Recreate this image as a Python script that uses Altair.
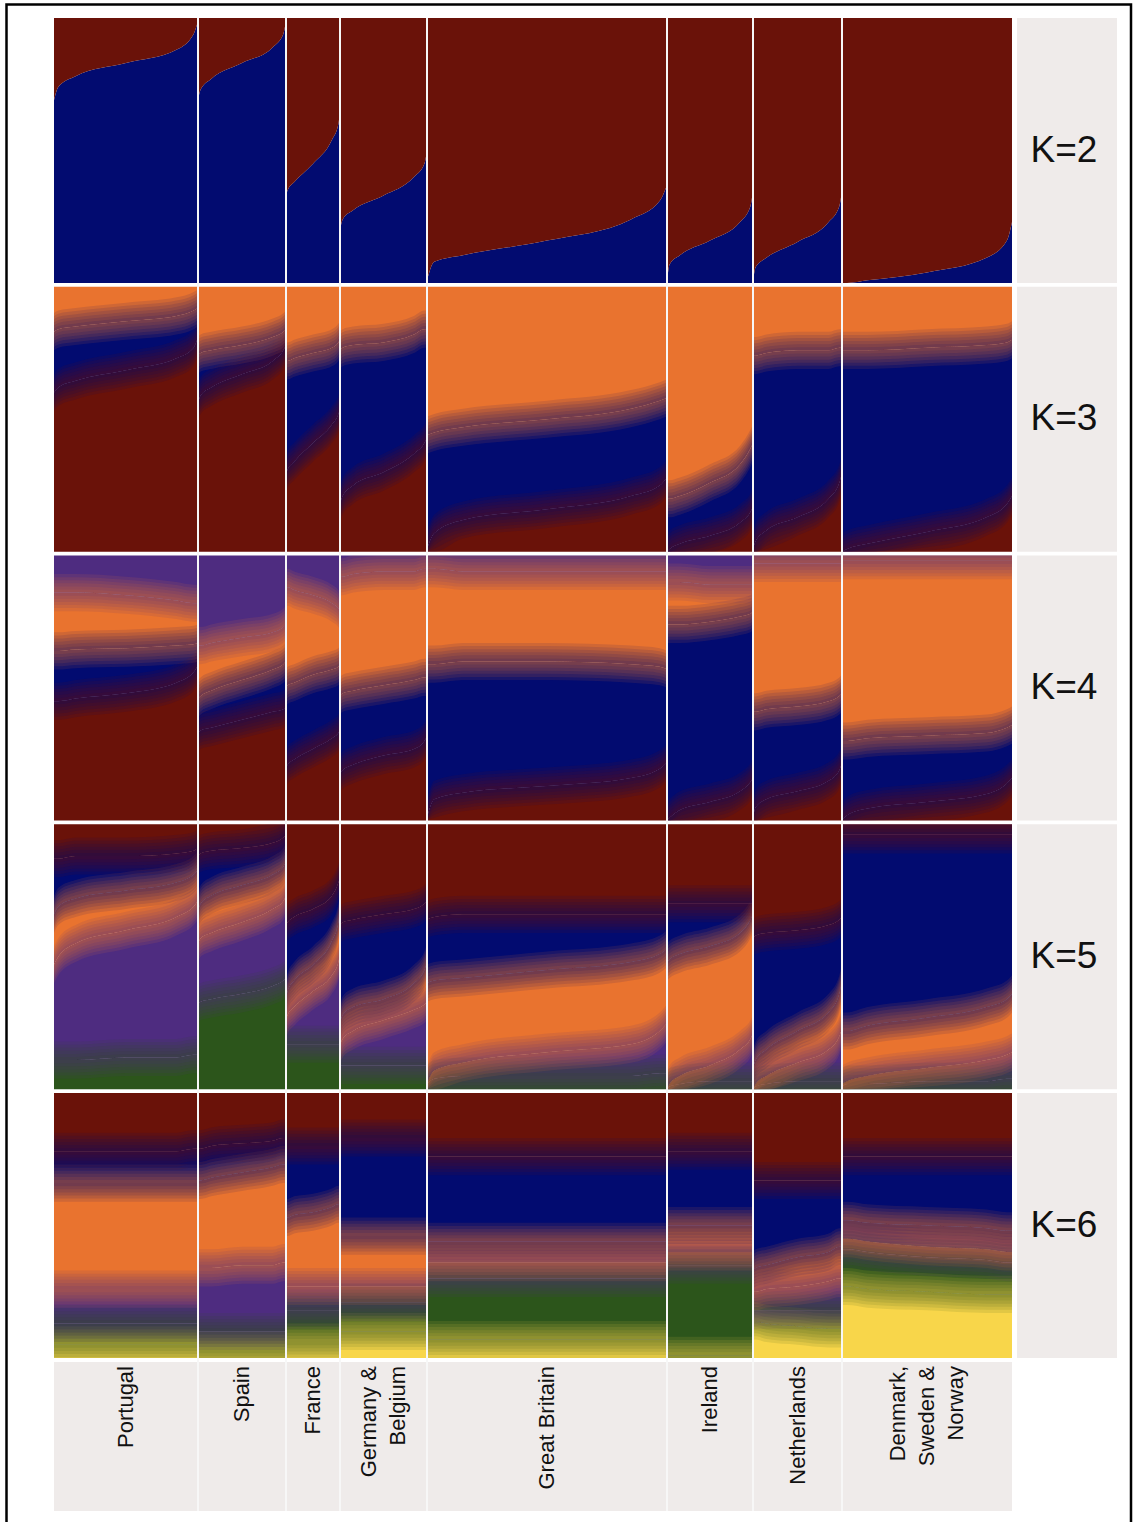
import altair as alt
import pandas as pd

# ---------------- data ----------------
POPS = ["Portugal", "Spain", "France", "Germany &\nBelgium", "Great Britain",
        "Ireland", "Netherlands", "Denmark,\nSweden &\nNorway"]
N_SAMPLES = [144, 88, 54, 87, 240, 86, 89, 170]
# relative positions (within each population, individuals sorted) where boundaries were read
POS = [0.0, 0.03, 0.15, 0.5, 0.85, 0.97, 1.0]
K_LABELS = ["K=2", "K=3", "K=4", "K=5", "K=6"]

# cumulative ancestry boundaries (fraction from bottom), one list per population
# K=2 : blue (bottom) | red
K2_BLUE_TOP = [
    [0.69, 0.74, 0.78, 0.83, 0.88, 0.94, 0.99],
    [0.69, 0.73, 0.77, 0.83, 0.89, 0.94, 0.99],
    [0.33, 0.35, 0.38, 0.45, 0.54, 0.60, 0.65],
    [0.20, 0.24, 0.275, 0.33, 0.40, 0.45, 0.50],
    [0.01, 0.08, 0.105, 0.16, 0.24, 0.31, 0.37],
    [0.005, 0.07, 0.105, 0.16, 0.23, 0.29, 0.35],
    [0.005, 0.06, 0.095, 0.155, 0.23, 0.29, 0.35],
    [0.0, 0.0, 0.01, 0.04, 0.095, 0.16, 0.23],
]
# K=3 : red | blue | orange
K3_RED_TOP = [
    [0.60, 0.62, 0.645, 0.685, 0.73, 0.77, 0.81],
    [0.56, 0.59, 0.62, 0.67, 0.72, 0.76, 0.78],
    [0.29, 0.31, 0.34, 0.41, 0.48, 0.52, 0.54],
    [0.18, 0.21, 0.25, 0.30, 0.37, 0.41, 0.43],
    [0.01, 0.07, 0.12, 0.16, 0.21, 0.25, 0.28],
    [0.0, 0.01, 0.03, 0.06, 0.11, 0.15, 0.17],
    [0.01, 0.04, 0.08, 0.13, 0.20, 0.26, 0.30],
    [0.0, 0.01, 0.03, 0.075, 0.13, 0.18, 0.21],
]
K3_BLUE_TOP = [
    [0.83, 0.84, 0.85, 0.87, 0.89, 0.91, 0.92],
    [0.74, 0.75, 0.76, 0.78, 0.81, 0.83, 0.84],
    [0.72, 0.72, 0.73, 0.75, 0.77, 0.79, 0.80],
    [0.76, 0.77, 0.78, 0.79, 0.82, 0.84, 0.84],
    [0.44, 0.45, 0.47, 0.50, 0.54, 0.57, 0.58],
    [0.20, 0.20, 0.21, 0.26, 0.33, 0.39, 0.41],
    [0.74, 0.74, 0.75, 0.76, 0.76, 0.77, 0.77],
    [0.76, 0.76, 0.76, 0.77, 0.78, 0.79, 0.80],
]
# K=4 : red | blue | orange | purple
K4_RED_TOP = [
    [0.45, 0.45, 0.46, 0.48, 0.52, 0.56, 0.585],
    [0.33, 0.34, 0.35, 0.38, 0.41, 0.42, 0.43],
    [0.20, 0.21, 0.23, 0.27, 0.31, 0.33, 0.34],
    [0.18, 0.19, 0.21, 0.245, 0.27, 0.30, 0.32],
    [0.01, 0.08, 0.105, 0.13, 0.16, 0.195, 0.22],
    [0.0, 0.01, 0.04, 0.07, 0.11, 0.145, 0.16],
    [0.01, 0.05, 0.08, 0.11, 0.15, 0.19, 0.22],
    [0.0, 0.02, 0.045, 0.07, 0.10, 0.14, 0.16],
]
K4_BLUE_TOP = [
    [0.64, 0.64, 0.645, 0.65, 0.66, 0.665, 0.67],
    [0.46, 0.47, 0.49, 0.53, 0.57, 0.59, 0.60],
    [0.50, 0.51, 0.52, 0.55, 0.57, 0.58, 0.59],
    [0.47, 0.48, 0.49, 0.51, 0.53, 0.54, 0.54],
    [0.59, 0.59, 0.60, 0.60, 0.59, 0.58, 0.57],
    [0.74, 0.74, 0.74, 0.75, 0.77, 0.78, 0.79],
    [0.41, 0.41, 0.42, 0.43, 0.45, 0.47, 0.48],
    [0.30, 0.30, 0.31, 0.32, 0.33, 0.35, 0.36],
]
K4_ORANGE_TOP = [
    [0.86, 0.86, 0.86, 0.85, 0.83, 0.82, 0.82],
    [0.66, 0.66, 0.67, 0.69, 0.71, 0.73, 0.74],
    [0.88, 0.88, 0.87, 0.85, 0.82, 0.80, 0.79],
    [0.92, 0.92, 0.93, 0.94, 0.94, 0.95, 0.95],
    [0.95, 0.95, 0.94, 0.94, 0.94, 0.94, 0.94],
    [0.90, 0.90, 0.90, 0.89, 0.89, 0.89, 0.89],
    [0.97, 0.97, 0.97, 0.97, 0.97, 0.97, 0.97],
    [0.98, 0.98, 0.98, 0.98, 0.98, 0.98, 0.98],
]
# K=5 : green | purple | orange | blue | red
K5_GREEN_TOP = [
    [0.11, 0.11, 0.11, 0.12, 0.12, 0.13, 0.13],
    [0.32, 0.33, 0.34, 0.36, 0.39, 0.41, 0.42],
    [0.17, 0.17, 0.17, 0.17, 0.17, 0.17, 0.17],
    [0.09, 0.09, 0.09, 0.09, 0.09, 0.09, 0.09],
    [0.02, 0.04, 0.05, 0.05, 0.05, 0.06, 0.06],
    [0.0, 0.01, 0.02, 0.03, 0.03, 0.03, 0.03],
    [0.0, 0.01, 0.02, 0.03, 0.03, 0.03, 0.03],
    [0.01, 0.02, 0.02, 0.03, 0.03, 0.04, 0.04],
]
K5_PURPLE_TOP = [
    [0.47, 0.50, 0.55, 0.60, 0.65, 0.69, 0.71],
    [0.55, 0.57, 0.59, 0.63, 0.68, 0.71, 0.73],
    [0.26, 0.28, 0.31, 0.37, 0.43, 0.48, 0.51],
    [0.17, 0.19, 0.22, 0.26, 0.30, 0.32, 0.33],
    [0.02, 0.07, 0.10, 0.14, 0.17, 0.22, 0.25],
    [0.0, 0.02, 0.05, 0.09, 0.15, 0.19, 0.21],
    [0.0, 0.02, 0.05, 0.10, 0.15, 0.20, 0.23],
    [0.02, 0.03, 0.05, 0.08, 0.11, 0.13, 0.14],
]
K5_ORANGE_TOP = [
    [0.66, 0.69, 0.72, 0.75, 0.78, 0.81, 0.83],
    [0.67, 0.70, 0.73, 0.77, 0.81, 0.84, 0.86],
    [0.34, 0.37, 0.41, 0.47, 0.56, 0.63, 0.67],
    [0.25, 0.28, 0.31, 0.34, 0.40, 0.45, 0.48],
    [0.40, 0.41, 0.42, 0.45, 0.48, 0.51, 0.53],
    [0.48, 0.49, 0.51, 0.54, 0.59, 0.64, 0.66],
    [0.08, 0.11, 0.15, 0.22, 0.29, 0.36, 0.41],
    [0.22, 0.22, 0.24, 0.27, 0.31, 0.34, 0.36],
]
K5_BLUE_TOP = [
    [0.87, 0.87, 0.88, 0.88, 0.89, 0.90, 0.91],
    [0.88, 0.89, 0.90, 0.91, 0.93, 0.95, 0.96],
    [0.62, 0.63, 0.65, 0.68, 0.73, 0.78, 0.80],
    [0.62, 0.63, 0.64, 0.66, 0.68, 0.70, 0.71],
    [0.64, 0.65, 0.66, 0.66, 0.66, 0.66, 0.66],
    [0.70, 0.70, 0.70, 0.70, 0.70, 0.70, 0.70],
    [0.57, 0.58, 0.59, 0.60, 0.62, 0.64, 0.65],
    [0.96, 0.96, 0.96, 0.96, 0.96, 0.96, 0.96],
]
# K=6 : yellow | green | purple | orange | blue | red
K6_YELLOW_TOP = [
    [0.05, 0.05, 0.05, 0.05, 0.05, 0.05, 0.05],
    [0.03, 0.03, 0.03, 0.03, 0.03, 0.03, 0.03],
    [0.06, 0.06, 0.06, 0.06, 0.06, 0.06, 0.06],
    [0.10, 0.10, 0.10, 0.10, 0.10, 0.10, 0.10],
    [0.07, 0.07, 0.07, 0.07, 0.07, 0.07, 0.07],
    [0.01, 0.01, 0.01, 0.01, 0.01, 0.01, 0.01],
    [0.14, 0.14, 0.13, 0.12, 0.11, 0.11, 0.11],
    [0.27, 0.27, 0.26, 0.25, 0.24, 0.24, 0.24],
]
K6_GREEN_TOP = [
    [0.13, 0.13, 0.13, 0.13, 0.13, 0.13, 0.13],
    [0.10, 0.10, 0.10, 0.10, 0.10, 0.10, 0.10],
    [0.18, 0.18, 0.18, 0.18, 0.18, 0.18, 0.18],
    [0.21, 0.21, 0.21, 0.21, 0.21, 0.21, 0.21],
    [0.30, 0.30, 0.30, 0.30, 0.30, 0.30, 0.30],
    [0.35, 0.35, 0.35, 0.35, 0.35, 0.35, 0.35],
    [0.18, 0.18, 0.18, 0.18, 0.18, 0.18, 0.18],
    [0.41, 0.41, 0.40, 0.38, 0.37, 0.36, 0.36],
]
K6_PURPLE_TOP = [
    [0.26, 0.26, 0.26, 0.26, 0.26, 0.26, 0.26],
    [0.34, 0.34, 0.34, 0.35, 0.35, 0.36, 0.36],
    [0.27, 0.27, 0.27, 0.27, 0.27, 0.27, 0.27],
    [0.27, 0.27, 0.27, 0.27, 0.27, 0.27, 0.27],
    [0.36, 0.36, 0.36, 0.36, 0.36, 0.36, 0.36],
    [0.40, 0.40, 0.40, 0.40, 0.40, 0.40, 0.40],
    [0.25, 0.25, 0.26, 0.27, 0.29, 0.30, 0.30],
    [0.45, 0.45, 0.44, 0.42, 0.41, 0.40, 0.40],
]
K6_ORANGE_TOP = [
    [0.66, 0.66, 0.66, 0.66, 0.66, 0.66, 0.66],
    [0.67, 0.67, 0.68, 0.70, 0.72, 0.73, 0.73],
    [0.53, 0.53, 0.54, 0.55, 0.57, 0.58, 0.58],
    [0.46, 0.46, 0.46, 0.46, 0.46, 0.46, 0.46],
    [0.44, 0.44, 0.44, 0.44, 0.44, 0.44, 0.44],
    [0.50, 0.50, 0.50, 0.50, 0.50, 0.50, 0.50],
    [0.33, 0.34, 0.35, 0.38, 0.40, 0.42, 0.42],
    [0.52, 0.52, 0.51, 0.50, 0.49, 0.48, 0.48],
]
K6_BLUE_TOP = [
    [0.78, 0.78, 0.78, 0.78, 0.78, 0.79, 0.79],
    [0.79, 0.79, 0.80, 0.81, 0.82, 0.83, 0.83],
    [0.80, 0.80, 0.80, 0.80, 0.80, 0.80, 0.80],
    [0.83, 0.83, 0.83, 0.83, 0.83, 0.83, 0.83],
    [0.76, 0.76, 0.76, 0.76, 0.76, 0.76, 0.76],
    [0.78, 0.78, 0.78, 0.78, 0.78, 0.78, 0.78],
    [0.67, 0.67, 0.67, 0.67, 0.67, 0.67, 0.67],
    [0.76, 0.76, 0.76, 0.76, 0.76, 0.76, 0.76],
]

COMPONENTS = ["red", "blue", "orange", "purple", "green", "yellow"]
COMP_COLORS = ["#6a1209", "#020b70", "#e9732f", "#4e2c80", "#2c551b", "#f8d64a"]

ROWS = [
    (["blue", "red"], [K2_BLUE_TOP]),
    (["red", "blue", "orange"], [K3_RED_TOP, K3_BLUE_TOP]),
    (["red", "blue", "orange", "purple"], [K4_RED_TOP, K4_BLUE_TOP, K4_ORANGE_TOP]),
    (["green", "purple", "orange", "blue", "red"],
     [K5_GREEN_TOP, K5_PURPLE_TOP, K5_ORANGE_TOP, K5_BLUE_TOP]),
    (["yellow", "green", "purple", "orange", "blue", "red"],
     [K6_YELLOW_TOP, K6_GREEN_TOP, K6_PURPLE_TOP, K6_ORANGE_TOP, K6_BLUE_TOP]),
]

# ---------------- layout (pixels) ----------------
W, H = 1134, 1522
X0 = 54            # left edge of the first population
ROW_TOP, ROW_STEP, ROW_H = 18, 268.75, 265
LAB_TOP, LAB_BOT = 1362, 1511
STRIP_X0, STRIP_X1 = 1017, 1117
FUZZ_W = 0.07      # half-width of the soft transition between components
TIERS = 6
TIER_OPACITY = 0.11
LINE_H = 29

starts = []
acc = 0
for n in N_SAMPLES:
    starts.append(acc)
    acc += n
ends = [s + n for s, n in zip(starts, N_SAMPLES)]


def ypix(r, q):
    return ROW_TOP + r * ROW_STEP + (1 - q) * ROW_H


bands, fuzz = [], []
for r, (comps, bounds) in enumerate(ROWS):
    for p, pop in enumerate(POPS):
        for i, f in enumerate(POS):
            x = starts[p] + f * N_SAMPLES[p]
            lv = [0.0] + [b[p][i] for b in bounds] + [1.0]
            for c, comp in enumerate(comps):
                bands.append(dict(key=f"{r}-{p}-{c}", comp=comp, x=x,
                                  y1=ypix(r, lv[c + 1]), y2=ypix(r, lv[c])))
            if r == 0:
                continue
            for c in range(1, len(comps)):
                b = lv[c]
                for t in range(1, TIERS + 1):
                    d = FUZZ_W * t / TIERS
                    up = min(b + d, 1.0)
                    dn = max(b - d, 0.0)
                    fuzz.append(dict(key=f"{r}-{p}-{c}-{t}a", comp=comps[c - 1], x=x,
                                     y1=ypix(r, up), y2=ypix(r, b)))
                    fuzz.append(dict(key=f"{r}-{p}-{c}-{t}b", comp=comps[c], x=x,
                                     y1=ypix(r, b), y2=ypix(r, dn)))

bands = pd.DataFrame(bands)
fuzz = pd.DataFrame(fuzz)

xsc = alt.Scale(domain=[-X0, W - X0], range=[0, W], nice=False, zero=False)
ysc = alt.Scale(domain=[0, H], range=[0, H], nice=False, zero=False)
csc = alt.Scale(domain=COMPONENTS, range=COMP_COLORS)


def enc_area():
    return dict(
        x=alt.X("x:Q", scale=xsc, axis=None),
        y=alt.Y("y1:Q", scale=ysc, axis=None),
        y2="y2:Q",
        color=alt.Color("comp:N", scale=csc, legend=None),
        detail="key:N",
    )


area = alt.Chart(bands).mark_area(interpolate="monotone", strokeWidth=0).encode(**enc_area())
soft = alt.Chart(fuzz).mark_area(interpolate="monotone", opacity=TIER_OPACITY,
                                 strokeWidth=0).encode(**enc_area())

# strip boxes for K labels
strip = pd.DataFrame(dict(
    lab=K_LABELS,
    x1=[STRIP_X0 - X0] * 5, x2=[STRIP_X1 - X0] * 5,
    y1=[ypix(r, 1) for r in range(5)], y2=[ypix(r, 0) for r in range(5)],
    ym=[ypix(r, 0.5) for r in range(5)],
))
strip["xm"] = (strip.x1 + strip.x2) / 2 - 3
strip_rect = alt.Chart(strip).mark_rect(color="#efebea").encode(
    x=alt.X("x1:Q", scale=xsc, axis=None), x2="x2:Q",
    y=alt.Y("y1:Q", scale=ysc, axis=None), y2="y2:Q")
strip_text = alt.Chart(strip).mark_text(font="Liberation Sans", fontSize=37, color="#111111",
                                        align="center", baseline="middle").encode(
    x=alt.X("xm:Q", scale=xsc, axis=None), y=alt.Y("ym:Q", scale=ysc, axis=None), text="lab:N")

# population label boxes
nlines = [p.count("\n") + 1 for p in POPS]
labs = pd.DataFrame(dict(pop=POPS, x1=starts, x2=ends,
                         xt=[(s + e) / 2 - (k - 1) * LINE_H / 2 for s, e, k in zip(starts, ends, nlines)],
                         y1=[LAB_TOP] * 8, y2=[LAB_BOT] * 8, yt=[LAB_TOP + 4] * 8))
lab_rect = alt.Chart(labs).mark_rect(color="#efebea").encode(
    x=alt.X("x1:Q", scale=xsc, axis=None), x2="x2:Q",
    y=alt.Y("y1:Q", scale=ysc, axis=None), y2="y2:Q")

# white separators between populations
seps = pd.DataFrame(dict(x=ends[:-1], y1=[ROW_TOP] * 7, y2=[LAB_BOT] * 7))
sep_rule = alt.Chart(seps).mark_rule(color="#f7f7f7", strokeWidth=2).encode(
    x=alt.X("x:Q", scale=xsc, axis=None),
    y=alt.Y("y1:Q", scale=ysc, axis=None), y2="y2:Q")

lab_text = alt.Chart(labs).mark_text(font="Liberation Sans", fontSize=22, color="#111111",
                                     angle=270, align="right", baseline="middle",
                                     lineBreak="\n", lineHeight=LINE_H).encode(
    x=alt.X("xt:Q", scale=xsc, axis=None), y=alt.Y("yt:Q", scale=ysc, axis=None), text="pop:N")

# outer frame
frame = pd.DataFrame(dict(x1=[6.5 - X0], x2=[1131 - X0], y1=[4.5], y2=[1540]))
frame_rect = alt.Chart(frame).mark_rect(fill=None, stroke="#000000", strokeWidth=2.5).encode(
    x=alt.X("x1:Q", scale=xsc, axis=None), x2="x2:Q",
    y=alt.Y("y1:Q", scale=ysc, axis=None), y2="y2:Q")

chart = alt.layer(area, soft, strip_rect, lab_rect, sep_rule, strip_text, lab_text, frame_rect).properties(
    width=W, height=H, padding=0, autosize=alt.AutoSizeParams(type="none"), background="white"
).configure_view(stroke=None)

chart.save("out.html", embed_options={"renderer": "svg", "actions": False})
